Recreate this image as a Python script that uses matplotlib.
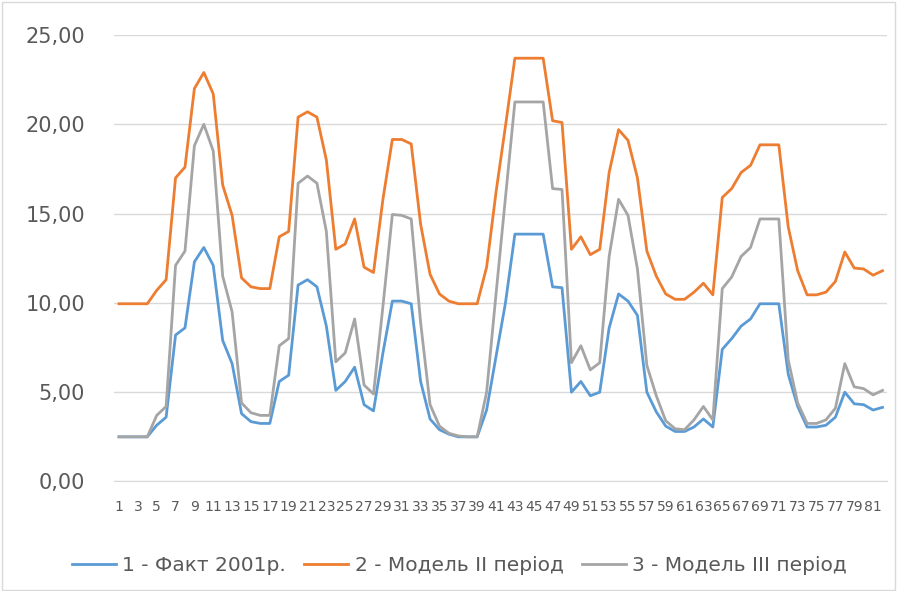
import matplotlib
matplotlib.use("Agg")
import matplotlib.pyplot as plt
from matplotlib.patches import Rectangle
import numpy as np

# values (82 points, labels on odd ones)
fact_2001 = [2.5, 2.5, 2.5, 2.5, 3.15, 3.6, 8.2, 8.6, 12.3, 13.1,
             12.1, 7.9, 6.6, 3.8, 3.35, 3.25, 3.25, 5.6, 5.95, 11.0,
             11.3, 10.9, 8.7, 5.1, 5.6, 6.4, 4.3, 3.95, 7.2, 10.1,
             10.1, 9.95, 5.6, 3.5, 2.9, 2.65, 2.5, 2.5, 2.5, 4.0,
             7.0, 10.0, 13.85, 13.85, 13.85, 13.85, 10.9, 10.85, 5.0, 5.6,
             4.8, 5.0, 8.6, 10.5, 10.1, 9.3, 5.0, 3.9, 3.1, 2.8,
             2.8, 3.05, 3.5, 3.05, 7.4, 8.0, 8.7, 9.1, 9.95, 9.95,
             9.95, 6.0, 4.2, 3.05, 3.05, 3.15, 3.6, 5.0, 4.35, 4.3,
             4.0, 4.15]

model_ii = [9.95, 9.95, 9.95, 9.95, 10.7, 11.3, 17.0, 17.6, 22.0, 22.9,
            21.7, 16.6, 14.9, 11.4, 10.9, 10.8, 10.8, 13.7, 14.0, 20.4,
            20.7, 20.4, 18.0, 13.0, 13.3, 14.7, 12.0, 11.7, 15.8, 19.15,
            19.15, 18.9, 14.4, 11.6, 10.5, 10.1, 9.95, 9.95, 9.95, 12.0,
            16.2, 19.9, 23.7, 23.7, 23.7, 23.7, 20.2, 20.1, 13.0, 13.7,
            12.7, 13.0, 17.3, 19.7, 19.1, 17.0, 12.9, 11.5, 10.5, 10.2,
            10.2, 10.6, 11.1, 10.45, 15.9, 16.4, 17.3, 17.7, 18.85, 18.85,
            18.85, 14.25, 11.8, 10.45, 10.45, 10.6, 11.2, 12.85, 11.95, 11.9,
            11.55, 11.8]

model_iii = [2.5, 2.5, 2.5, 2.5, 3.7, 4.2, 12.1, 12.9, 18.8, 20.0,
             18.5, 11.5, 9.5, 4.4, 3.85, 3.7, 3.7, 7.6, 8.0, 16.7,
             17.1, 16.7, 14.0, 6.7, 7.2, 9.1, 5.4, 4.9, 9.8, 14.95,
             14.9, 14.7, 8.9, 4.3, 3.1, 2.7, 2.55, 2.5, 2.5, 5.0,
             10.5, 15.9, 21.25, 21.25, 21.25, 21.25, 16.4, 16.35, 6.65, 7.6,
             6.25, 6.65, 12.6, 15.8, 14.9, 11.9, 6.5, 4.8, 3.4, 2.95,
             2.9, 3.45, 4.2, 3.45, 10.8, 11.45, 12.6, 13.1, 14.7, 14.7,
             14.7, 6.8, 4.4, 3.25, 3.25, 3.45, 4.1, 6.6, 5.3, 5.2,
             4.85, 5.1]

labels = ["1 - Факт 2001р.", "2 - Модель II період", "3 - Модель III період"]
colors = ["#5B9BD5", "#ED7D31", "#A5A5A5"]

x = np.arange(1, len(fact_2001) + 1)

fig = plt.figure(figsize=(8.97, 5.91), dpi=100)
ax = fig.add_axes([0.1274, 0.1853, 0.8617, 0.7555])

for ser, lab, col in zip([fact_2001, model_ii, model_iii], labels, colors):
    ax.plot(x, ser, color=col, lw=2.0, label=lab, solid_joinstyle="round")

ax.set_xlim(0.5, len(x) + 0.5)
ax.set_ylim(0, 25)
ax.set_yticks(np.arange(0, 26, 5))
ax.set_yticklabels([f"{v:.2f}".replace(".", ",") for v in np.arange(0, 26, 5)])
ax.set_xticks(x[::2])
ax.set_xticklabels([str(i) for i in x[::2]])

ax.grid(axis="y", color="#D9D9D9", lw=1)
ax.set_axisbelow(True)
for s in ["top", "right", "left"]:
    ax.spines[s].set_visible(False)
ax.spines["bottom"].set_color("#D9D9D9")
ax.tick_params(axis="both", length=0)
ax.tick_params(axis="y", pad=21, labelsize=15, labelcolor="#595959")
ax.tick_params(axis="x", pad=13, labelsize=10, labelcolor="#595959")

leg = fig.legend(loc="center", bbox_to_anchor=(0.512, 0.043), ncol=3,
                 frameon=False, fontsize=14.5, handlelength=2.2,
                 columnspacing=0.9, handletextpad=0.3)
for t in leg.get_texts():
    t.set_color("#595959")

fig.patches.append(Rectangle((0.002, 0.002), 0.996, 0.994, transform=fig.transFigure,
                             fill=False, edgecolor="#D9D9D9", lw=1))

fig.savefig("out.png", dpi=100)
